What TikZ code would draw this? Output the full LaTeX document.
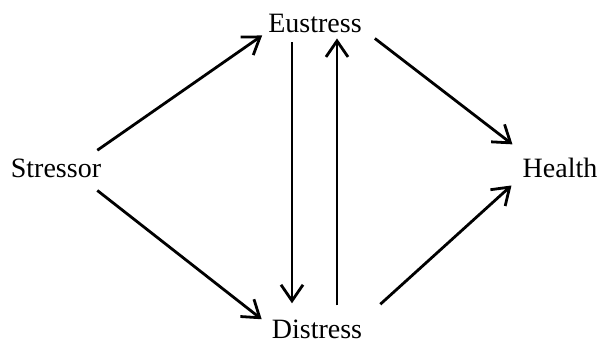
\documentclass[tikz,border=0pt]{standalone}
\usepackage{fontspec}
\setmainfont{Liberation Serif}
\usepackage{tikz}
\usetikzlibrary{arrows.meta, positioning}

\begin{document}
\begin{tikzpicture}[x=1pt, y=1pt,
    every node/.style={font=\fontsize{28}{34}\selectfont, inner sep=0pt, anchor=base},
    arr/.style={-{Straight Barb[length=16pt,width=22pt]}, line width=2.8pt}]
  \useasboundingbox (0,0) rectangle (600,345);
  % the four states
  \node (stressor) at (56,167) {Stressor};
  \node (eustress) at (315,312) {Eustress};
  \node (distress) at (317,6) {Distress};
  \node (health) at (560,167) {Health};
  % stressor splits up
  \draw[arr] ([shift={(-4,9)}]stressor.north east) -- ([shift={(-6,-2)}]eustress.south west);
  \draw[arr] ([shift={(-4,-12)}]stressor.south east) -- ([shift={(-10,1)}]distress.north west);
  % the two ways between eustress and distress
  \draw[arr] ([shift={(-23,-9)}]eustress.south) -- ([shift={(-25,17)}]distress.north);
  \draw[arr] ([shift={(20,15)}]distress.north) -- ([shift={(22,-5)}]eustress.south);
  % both end in health
  \draw[arr] ([shift={(13,-5)}]eustress.south east) -- ([shift={(-10,14)}]health.north west);
  \draw[arr] ([shift={(18,16)}]distress.north east) -- ([shift={(-11,-7)}]health.south west);
\end{tikzpicture}
\end{document}
